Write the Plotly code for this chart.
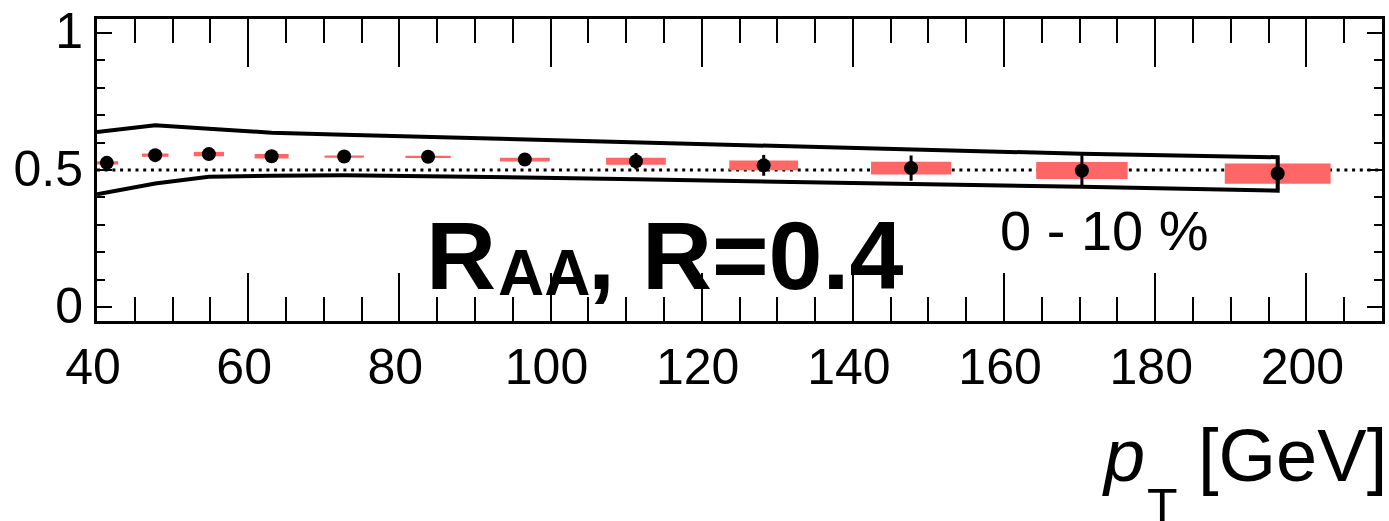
import plotly.graph_objects as go

# Jet pT bin centres [GeV] and measured nuclear modification factor
pt = [41.3, 47.7, 54.8, 63.1, 72.7, 83.8, 96.6, 111.3, 128.2, 147.7, 170.3, 196.2]
raa = [0.526, 0.554, 0.558, 0.550, 0.549, 0.548, 0.538, 0.532, 0.517, 0.507, 0.498, 0.487]
stat_err = [0.008, 0.008, 0.009, 0.010, 0.012, 0.014, 0.018, 0.030, 0.038, 0.046, 0.056, 0.060]
sys_err = [0.006, 0.006, 0.008, 0.008, 0.004, 0.004, 0.007, 0.0125, 0.018, 0.023, 0.031, 0.037]
sys_halfwidth = [1.5, 1.75, 2.0, 2.25, 2.6, 3.0, 3.3, 3.95, 4.55, 5.3, 6.05, 7.0]

# Theory uncertainty band (upper / lower edge)
band_pt = [40.0, 47.7, 54.8, 63.1, 72.7, 83.8, 96.6, 111.3, 128.2, 147.7, 170.3, 196.2]
band_hi = [0.638, 0.663, 0.650, 0.636, 0.628, 0.620, 0.611, 0.600, 0.587, 0.573, 0.559, 0.5465]
band_lo = [0.412, 0.451, 0.475, 0.479, 0.481, 0.479, 0.473, 0.466, 0.457, 0.448, 0.439, 0.425]

REF_LEVEL = 0.5
X_RANGE = [40, 210]
Y_RANGE = [-0.05, 1.05]

W, H = 1389, 521
ML, MR, MT, MB = 97, 4, 12, 200
PW, PH = W - ML - MR, H - MT - MB

FONT = "Liberation Sans"


def paper_x(px):
    return (px - ML) / PW


def paper_y(py):
    return (MT + PH - py) / PH


fig = go.Figure()

# systematic uncertainty boxes
fig.add_trace(go.Bar(
    x=pt,
    y=[2 * s for s in sys_err],
    base=[r - s for r, s in zip(raa, sys_err)],
    width=[2 * w for w in sys_halfwidth],
    marker=dict(color="#ff6666", line=dict(width=0)),
    showlegend=False, hoverinfo="skip",
))

# theory band outline
fig.add_trace(go.Scatter(
    x=band_pt + band_pt[::-1],
    y=band_hi + band_lo[::-1],
    mode="lines",
    line=dict(color="black", width=4),
    showlegend=False, hoverinfo="skip",
))

# data points with statistical errors
fig.add_trace(go.Scatter(
    x=pt, y=raa, mode="markers",
    marker=dict(color="black", size=14, symbol="circle"),
    error_y=dict(type="data", array=stat_err, thickness=3, width=0, color="black"),
    showlegend=False,
))

fig.add_shape(type="line", xref="paper", x0=0, x1=1, yref="y",
              y0=REF_LEVEL, y1=REF_LEVEL, layer="below",
              line=dict(color="black", width=3, dash="3px,4.7px"))

tickfont = dict(family=FONT, size=50, color="black")

fig.update_xaxes(
    range=X_RANGE, tick0=40, dtick=20, ticks="inside", ticklen=48, tickwidth=2,
    tickcolor="black", showline=True, linewidth=3, linecolor="black",
    mirror="ticks", showgrid=False, zeroline=False, tickfont=tickfont,
    ticklabelstandoff=0, ticklabelshift=-4, ticklabeloverflow="allow",
    minor=dict(tick0=40, dtick=5, ticks="inside", ticklen=24, tickwidth=2,
               tickcolor="black", showgrid=False),
)
fig.update_yaxes(
    range=Y_RANGE, tick0=0, dtick=0.5, ticks="inside", ticklen=15, tickwidth=2,
    tickcolor="black", showline=True, linewidth=3, linecolor="black",
    mirror="ticks", showgrid=False, zeroline=False, tickfont=tickfont,
    ticklabelstandoff=1, ticklabelshift=-2, ticklabeloverflow="allow",
    minor=dict(tick0=0, dtick=0.1, ticks="inside", ticklen=8, tickwidth=2,
               tickcolor="black", showgrid=False),
)


def label(text, px_left, py_top, size, bold=False, italic=False):
    fig.add_annotation(
        text=text, xref="paper", yref="paper",
        x=paper_x(px_left), y=paper_y(py_top),
        xanchor="left", yanchor="top", showarrow=False,
        font=dict(family=FONT, size=size, color="black",
                  weight="bold" if bold else "normal",
                  style="italic" if italic else "normal"),
    )


# "R_AA, R=0.4"
label("R", 425, 285 - 0.905 * 97 - 1, 97, bold=True)
label("AA", 497, 291.7 - 0.905 * 64 - 1, 64, bold=True)
label(", R=0.4", 587, 285 - 0.905 * 97 - 1, 97, bold=True)

# centrality
label("0 - 10 %", 1000, 246 - 0.905 * 56 - 1, 56)

# axis title p_T [GeV]
label("p", 1102, 482 - 0.905 * 74 - 1, 74, italic=True)
label("T", 1147, 527 - 0.905 * 50 - 1, 50)
label("[GeV]", 1199, 482 - 0.905 * 74 - 1, 74)

fig.update_layout(
    width=W, height=H,
    margin=dict(l=ML, r=MR, t=MT, b=MB, pad=0),
    plot_bgcolor="white", paper_bgcolor="white",
    barmode="overlay", showlegend=False,
    font=dict(family=FONT, color="black"),
)

fig.write_html("out.html")
